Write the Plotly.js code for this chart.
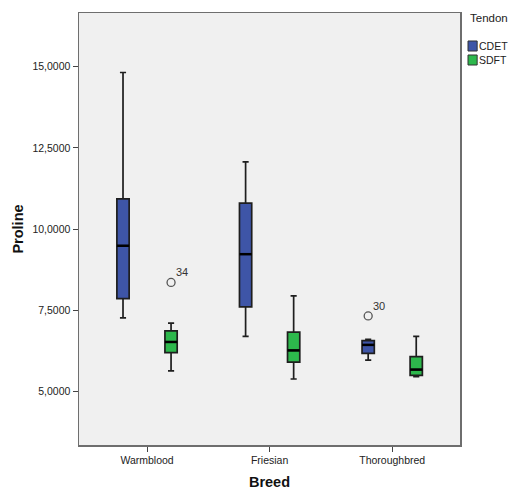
<!DOCTYPE html>
<html>
<head>
<meta charset="utf-8">
<script src="https://cdn.plot.ly/plotly-3.0.1.min.js"></script>
<style>html,body{margin:0;padding:0;background:#fff;}#chart{width:510px;height:490px;}</style>
</head>
<body>
<div id="chart"></div>
<script>
// ---- data ----
var breeds = ["Warmblood", "Friesian", "Thoroughbred"];
var series = ["CDET", "SDFT"];
var cdetLower  = [7.27, 6.70, 5.97];
var cdetQ1     = [7.86, 7.61, 6.18];
var cdetMedian = [9.49, 9.23, 6.44];
var cdetQ3     = [10.93, 10.80, 6.57];
var cdetUpper  = [14.82, 12.07, 6.61];
var sdftLower  = [5.64, 5.39, 5.46];
var sdftQ1     = [6.20, 5.91, 5.50];
var sdftMedian = [6.53, 6.27, 5.68];
var sdftQ3     = [6.87, 6.83, 6.08];
var sdftUpper  = [7.11, 7.95, 6.70];
var outlierBreed  = [0, 2];
var outlierSeries = [1, 0];
var outlierValues = [8.36, 7.33];
var outlierLabels = ["34", "30"];
var yTicks = [5, 7.5, 10, 12.5, 15];

// ---- style ----
var colors = ["#3e55a7", "#2db84c"];
var offsets = [-0.196, 0.196];
var boxW = 0.1;
var font = "Liberation Sans, Arial, sans-serif";

var stats = [
  {lo: cdetLower, q1: cdetQ1, med: cdetMedian, q3: cdetQ3, hi: cdetUpper},
  {lo: sdftLower, q1: sdftQ1, med: sdftMedian, q3: sdftQ3, hi: sdftUpper}
];

var traces = [];
series.forEach(function (name, s) {
  var xs = breeds.map(function (b, i) { return i + offsets[s]; });
  traces.push({
    type: "box", name: name, x: xs,
    q1: stats[s].q1, median: stats[s].med, q3: stats[s].q3,
    lowerfence: stats[s].lo, upperfence: stats[s].hi,
    width: boxW, whiskerwidth: 0.5,
    fillcolor: colors[s], line: {color: "#1e1e1e", width: 1.7},
    boxpoints: false, showlegend: false, hoverinfo: "skip"
  });
  // thicker median lines
  var mx = [], my = [];
  breeds.forEach(function (b, i) {
    mx.push(i + offsets[s] - boxW / 2, i + offsets[s] + boxW / 2, null);
    my.push(stats[s].med[i], stats[s].med[i], null);
  });
  traces.push({type: "scatter", mode: "lines", x: mx, y: my,
    line: {color: "#000", width: 2.5}, showlegend: false, hoverinfo: "skip"});
});

traces.push({
  type: "scatter", mode: "markers",
  x: outlierBreed.map(function (b, k) { return b + offsets[outlierSeries[k]]; }),
  y: outlierValues,
  marker: {symbol: "circle-open", size: 8, color: "#555", line: {width: 1.3, color: "#555"}},
  showlegend: false, hoverinfo: "skip"
});

var annotations = outlierLabels.map(function (t, k) {
  return {x: outlierBreed[k] + offsets[outlierSeries[k]], y: outlierValues[k],
    xref: "x", yref: "y", text: t, showarrow: false, xanchor: "left", yanchor: "bottom",
    xshift: 3, yshift: 2, font: {family: font, size: 11, color: "#333"}};
});

// manual legend (outside plot, narrow right margin)
var shapes = [];
annotations.push({x: 1.021, y: 0.989, xref: "paper", yref: "paper", text: "Tendon",
  showarrow: false, xanchor: "left", yanchor: "middle", font: {family: font, size: 11.5, color: "#222"}});
series.forEach(function (name, s) {
  var yc = 0.9236 - s * 0.0324;
  shapes.push({type: "rect", xref: "paper", yref: "paper", x0: 1.021, x1: 1.045,
    y0: yc - 0.0116, y1: yc + 0.0116, fillcolor: colors[s], line: {color: "#333", width: 1}});
  annotations.push({x: 1.047, y: yc, xref: "paper", yref: "paper", text: name,
    showarrow: false, xanchor: "left", yanchor: "middle", xshift: -1,
    font: {family: font, size: 10.5, color: "#222"}});
});

var layout = {
  width: 510, height: 490,
  margin: {l: 79, r: 50, t: 13, b: 45},
  paper_bgcolor: "#ffffff", plot_bgcolor: "#f0f0f0",
  separators: ",.",
  showlegend: false,
  font: {family: font, size: 10.5, color: "#222"},
  xaxis: {
    range: [-0.555, 2.553], tickvals: breeds.map(function (b, i) { return i; }), ticktext: breeds,
    showgrid: false, zeroline: false, showline: true, mirror: true,
    linecolor: "#6e6e6e", linewidth: 1.5, ticks: "outside", ticklen: 5, tickcolor: "#444",
    tickfont: {family: font, size: 10.5, color: "#222"},
    title: {text: "<b>Breed</b>", font: {family: font, size: 14.5, color: "#111"}, standoff: 13}
  },
  yaxis: {
    range: [3.36, 16.65], tickvals: yTicks, tickformat: ".4f",
    showgrid: false, zeroline: false, showline: true, mirror: true,
    linecolor: "#6e6e6e", linewidth: 1.5, ticks: "outside", ticklen: 5, tickcolor: "#444",
    tickfont: {family: font, size: 10.5, color: "#222"},
    title: {text: "<b>Proline</b>", font: {family: font, size: 14.5, color: "#111"}, standoff: 5}
  },
  annotations: annotations,
  shapes: shapes
};

Plotly.newPlot("chart", traces, layout, {staticPlot: true, displayModeBar: false});
</script>
</body>
</html>
